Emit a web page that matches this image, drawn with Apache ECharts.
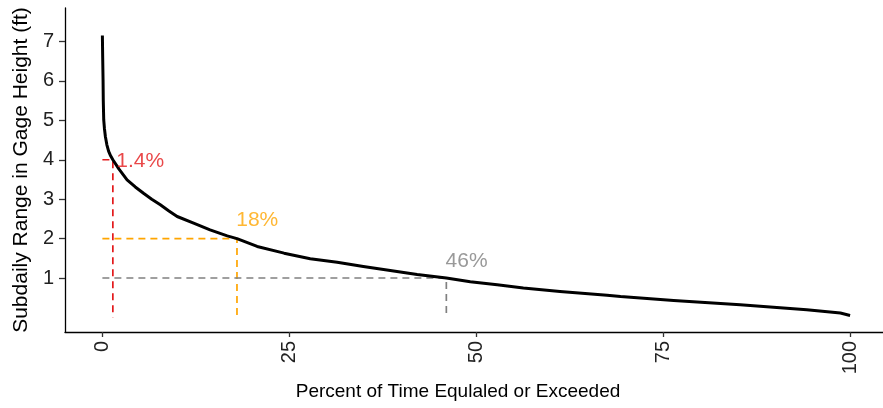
<!DOCTYPE html>
<html>
<head>
<meta charset="utf-8">
<script src="https://cdn.jsdelivr.net/npm/echarts@6/dist/echarts.min.js"></script>
<style>html,body{margin:0;padding:0;background:#fff}#c{width:883px;height:408px}</style>
</head>
<body>
<div id="c"></div>
<script>
// Flow-duration curve
const percentTime = [0, 0.04, 0.09, 0.12, 0.18, 0.27, 0.4, 0.6, 0.84, 1.1, 1.4, 2.2, 3.3, 4.4, 5.5, 6.6, 7.75, 8.9, 10, 12.2, 14.4, 16.7, 18, 20.7, 24.3, 27.8, 31.4, 34.9, 38.5, 42.1, 46, 49.2, 52.8, 56.3, 61.2, 67.5, 69.3, 76.4, 85.3, 94.2, 98.7, 100];
const rangeFt     = [7.15, 6.6, 6.03, 5.5, 5.01, 4.8, 4.59, 4.38, 4.21, 4.1, 4.0, 3.77, 3.49, 3.31, 3.15, 3.0, 2.86, 2.7, 2.56, 2.39, 2.22, 2.07, 2.0, 1.80, 1.63, 1.49, 1.40, 1.29, 1.19, 1.09, 1.0, 0.905, 0.83, 0.745, 0.66, 0.565, 0.53, 0.43, 0.32, 0.195, 0.11, 0.05];

// Reference thresholds
const refPercent = [1.4, 18, 46];
const refRange   = [4, 2, 1];
const refLabels  = ['1.4%', '18%', '46%'];
const refColors  = ['#e31a1c', '#ffa500', '#808080'];
const labelX     = [1.85, 17.9, 45.9];
const labelY     = [3.97, 2.47, 1.42];

const xTicks = [0, 25, 50, 75, 100];
const yTicks = [1, 2, 3, 4, 5, 6, 7];

const FONT = 'Liberation Sans, Arial, sans-serif';

const series = [];
refPercent.forEach((p, i) => {
  series.push({
    type: 'line',
    data: [[0, refRange[i]], [p, refRange[i]], [p, 0]],
    symbol: 'none',
    silent: true,
    lineStyle: { color: refColors[i], width: 1.7, type: [7, 5] },
    z: 1
  });
});
series.push({
  type: 'line',
  data: percentTime.map((x, i) => [x, rangeFt[i]]),
  symbol: 'none',
  smooth: false,
  lineStyle: { color: '#000', width: 3, join: 'round', cap: 'butt' },
  z: 3
});
series.push({
  type: 'scatter',
  symbolSize: 0,
  silent: true,
  data: refLabels.map((t, i) => ({ value: [labelX[i], labelY[i]], name: t,
    label: { color: refColors[i] } })),
  label: {
    show: true, position: 'inside', align: 'left', verticalAlign: 'middle',
    formatter: p => p.name, fontFamily: FONT, fontSize: 21
  },
  z: 4
});

const chart = echarts.init(document.getElementById('c'), null, { renderer: 'canvas' });
chart.setOption({
  animation: false,
  backgroundColor: '#fff',
  grid: { left: 65, right: 0, top: 8, bottom: 76 },
  xAxis: {
    type: 'value', min: -5, max: 104.4,
    name: 'Percent of Time Equlaled or Exceeded',
    nameLocation: 'middle', nameGap: 50,
    nameTextStyle: { fontFamily: FONT, fontSize: 19, color: '#000', padding: [0, 32, 0, 0] },
    axisLine: { show: true, onZero: false, lineStyle: { color: '#000', width: 1.3 } },
    axisTick: { show: true, length: 5, customValues: xTicks, lineStyle: { color: '#333', width: 1.3 } },
    axisLabel: { customValues: xTicks, rotate: 90, margin: 9, fontFamily: FONT, fontSize: 20, color: '#222' },
    splitLine: { show: false }
  },
  yAxis: {
    type: 'value', min: -0.37, max: 7.85,
    name: 'Subdaily Range in Gage Height (ft)',
    nameLocation: 'middle', nameGap: 30,
    nameTextStyle: { fontFamily: FONT, fontSize: 21, color: '#000' },
    axisLine: { show: true, onZero: false, lineStyle: { color: '#000', width: 1.3 } },
    axisTick: { show: true, length: 6, customValues: yTicks, lineStyle: { color: '#333', width: 1.3 } },
    axisLabel: { customValues: yTicks, margin: 11, fontFamily: FONT, fontSize: 20, color: '#222' },
    splitLine: { show: false }
  },
  series
});
</script>
</body>
</html>
